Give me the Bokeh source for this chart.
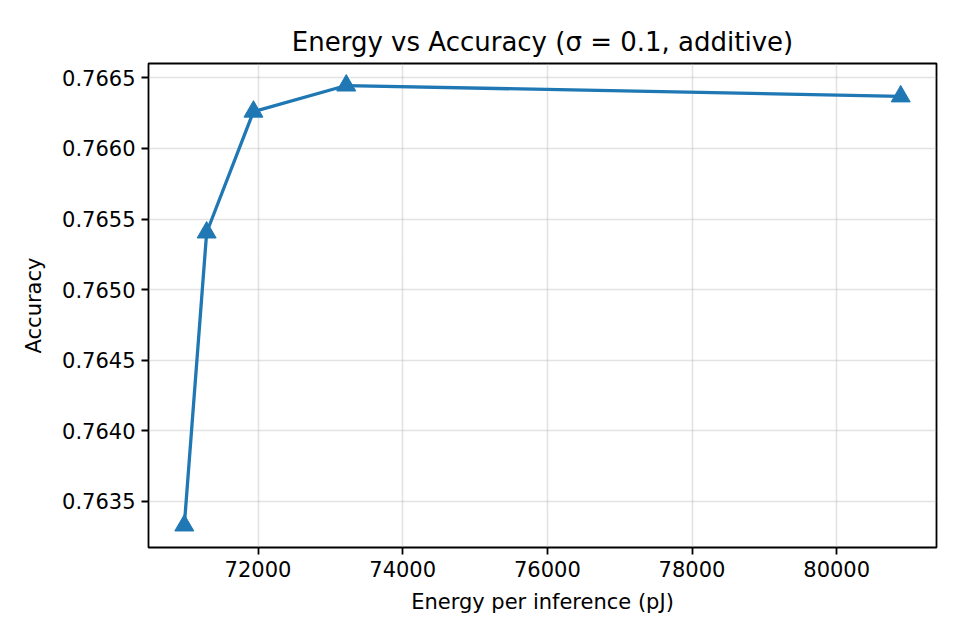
from bokeh.plotting import figure
from bokeh.models import FixedTicker, PrintfTickFormatter
from bokeh.embed import file_html
from bokeh.resources import INLINE

# energy per inference (pJ) and accuracy
energy = [70981, 71290, 71937, 73220, 80885]
accuracy = [0.76333, 0.765405, 0.766261, 0.766446, 0.766369]

x_ticks = [72000, 74000, 76000, 78000, 80000]
y_ticks = [0.7635, 0.7640, 0.7645, 0.7650, 0.7655, 0.7660, 0.7665]

blue = '#1f77b4'
font = 'DejaVu Sans'

p = figure(
	width=944, height=624,
	x_range=(70486, 81380), y_range=(0.763174, 0.766602),
	title='Energy vs Accuracy (σ = 0.1, additive)',
	x_axis_label='Energy per inference (pJ)',
	y_axis_label='Accuracy',
	output_backend='svg',
	toolbar_location=None,
	min_border_left=148, min_border_right=8,
	min_border_top=63, min_border_bottom=77)

p.line(energy, accuracy, line_width=3.3, line_color=blue)
p.scatter(energy, accuracy, marker='triangle', size=19,
		fill_color=blue, line_color=blue)

p.title.align = 'center'
p.title.text_font = font
p.title.text_font_size = '26px'
p.title.text_font_style = 'normal'
p.title.text_color = 'black'
p.title.standoff = 13

p.xaxis.ticker = FixedTicker(ticks=x_ticks)
p.yaxis.ticker = FixedTicker(ticks=y_ticks)
p.xaxis.formatter = PrintfTickFormatter(format='%d')
p.yaxis.formatter = PrintfTickFormatter(format='%.4f')

for ax in [p.xaxis, p.yaxis]:
	ax.axis_label_text_font = font
	ax.axis_label_text_font_size = '21px'
	ax.axis_label_text_font_style = 'normal'
	ax.axis_label_text_color = 'black'
	ax.major_label_text_font = font
	ax.major_label_text_font_size = '21px'
	ax.major_label_text_color = 'black'
	ax.major_tick_out = 7
	ax.major_tick_in = 0
	ax.minor_tick_line_color = None
	ax.major_tick_line_width = 1.8
	ax.major_tick_line_color = 'black'
	ax.axis_line_color = None
	ax.major_label_standoff = 6
	ax.axis_label_standoff = 8
p.yaxis.axis_label_standoff = 13
p.xaxis.axis_label_standoff = 10

p.grid.grid_line_color = '#b0b0b0'
p.grid.grid_line_alpha = 0.35
p.grid.grid_line_width = 1.6

p.outline_line_color = 'black'
p.outline_line_width = 1.8
p.outline_line_alpha = 1.0
p.background_fill_color = 'white'
p.border_fill_color = 'white'

open('out.html', 'w').write(file_html(p, INLINE))
